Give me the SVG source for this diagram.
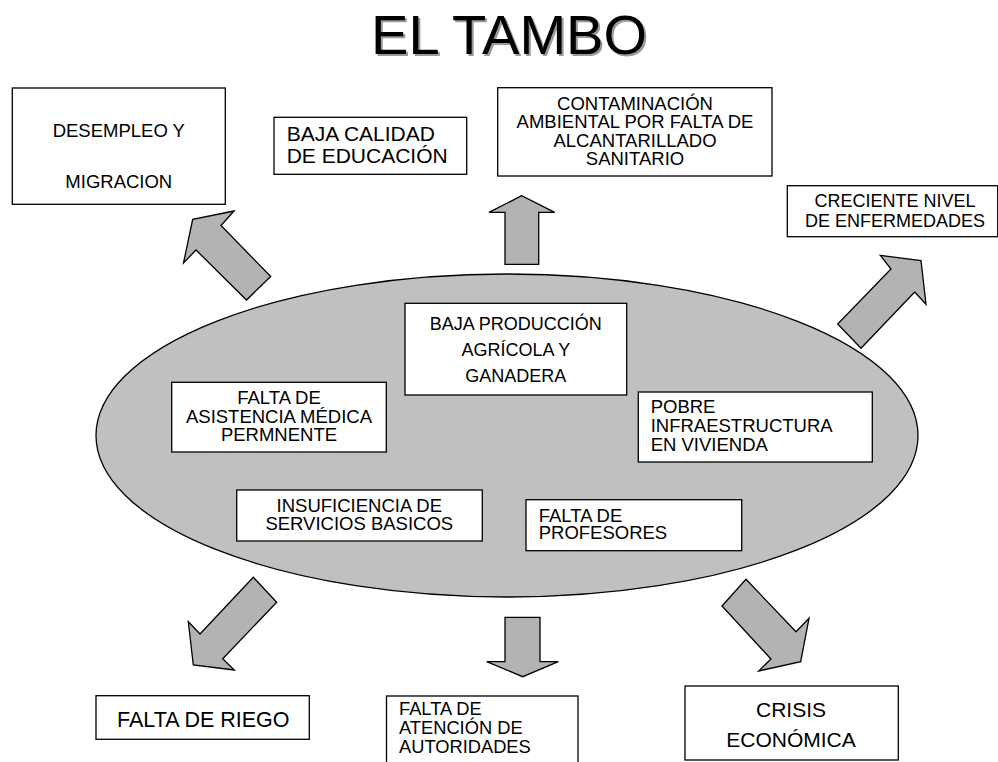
<svg xmlns="http://www.w3.org/2000/svg" width="998" height="762" viewBox="0 0 998 762">
<style>
.box{fill:#ffffff;stroke:#000000;stroke-width:1.3}
.arr{fill:#b3b3b3;stroke:#000000;stroke-width:1.3;stroke-linejoin:miter}
.t{font-family:"Liberation Sans",Arial,sans-serif;fill:#000000}
.c{text-anchor:middle}
</style>
<rect width="998" height="762" fill="#ffffff"/>
<g id="title">
<text class="t c" x="511" y="55.5" font-size="56" style="fill:#9a9a9a">EL TAMBO</text>
<text class="t c" x="509" y="53.5" font-size="56">EL TAMBO</text>
</g>
<g id="center">
<ellipse cx="507" cy="435.5" rx="411" ry="161.5" fill="#c0c0c0" stroke="#000000" stroke-width="1.3"/>
</g>
<g id="connectors">
<polygon class="arr" points="234,211 192.7,219.3 183.5,263 196,250 246.5,300 270.7,276.5 221,225.5"/>
<polygon class="arr" points="521.7,195.7 489,212.3 505,212.3 505,264.3 538.7,264.3 538.7,212.3 554.7,212.3"/>
<polygon class="arr" points="880.3,255.3 921,260.7 926,304.3 914.7,292 861,348.3 837.7,324 891,269"/>
<polygon class="arr" points="253.3,577.3 276.7,602.3 222.7,658.7 234.3,670 193.3,665 188.3,621.7 200,634"/>
<polygon class="arr" points="505,617.3 540,617.3 540,661.7 558.3,661.7 522.7,676.7 486.7,661.7 505,661.7"/>
<polygon class="arr" points="722,606 746,579.3 796,631.7 809,618.3 800.7,661.7 758.7,671 771,659"/>
</g>
<g id="n-desempleo">
<rect class="box" x="12.3" y="88" width="213" height="116.3"/>
<text class="t c" x="118.8" font-size="18.5"><tspan x="118.8" y="136.7">DESEMPLEO Y</tspan><tspan x="118.8" y="188">MIGRACION</tspan></text>
</g>
<g id="n-baja-calidad">
<rect class="box" x="274" y="117.3" width="192.7" height="57"/>
<text class="t" font-size="21"><tspan x="286.7" y="141">BAJA CALIDAD</tspan><tspan x="286.7" y="162.7">DE EDUCACIÓN</tspan></text>
</g>
<g id="n-contaminacion">
<rect class="box" x="497.7" y="87.7" width="274.3" height="88.3"/>
<text class="t c" font-size="18.5"><tspan x="635" y="110">CONTAMINACIÓN</tspan><tspan x="635" y="128.3">AMBIENTAL POR FALTA DE</tspan><tspan x="635" y="146.7">ALCANTARILLADO</tspan><tspan x="635" y="165">SANITARIO</tspan></text>
</g>
<g id="n-creciente">
<rect class="box" x="787.3" y="185.7" width="210.4" height="51"/>
<text class="t c" font-size="18"><tspan x="895" y="207.3">CRECIENTE NIVEL</tspan><tspan x="895" y="226.7">DE ENFERMEDADES</tspan></text>
</g>
<g id="n-baja-produccion">
<rect class="box" x="405" y="303.3" width="221.7" height="91.7"/>
<text class="t c" font-size="18"><tspan x="515.8" y="330">BAJA PRODUCCIÓN</tspan><tspan x="515.8" y="356">AGRÍCOLA Y</tspan><tspan x="515.8" y="381.7">GANADERA</tspan></text>
</g>
<g id="n-asistencia">
<rect class="box" x="171.7" y="382.3" width="214.6" height="69.7"/>
<text class="t c" font-size="18.5"><tspan x="279" y="404">FALTA DE</tspan><tspan x="279" y="422.7">ASISTENCIA MÉDICA</tspan><tspan x="279" y="440.7">PERMNENTE</tspan></text>
</g>
<g id="n-pobre">
<rect class="box" x="638.3" y="392" width="234" height="70"/>
<text class="t" font-size="18.5"><tspan x="650.7" y="413.3">POBRE</tspan><tspan x="650.7" y="431.7">INFRAESTRUCTURA</tspan><tspan x="650.7" y="450.7">EN VIVIENDA</tspan></text>
</g>
<g id="n-insuficiencia">
<rect class="box" x="236.7" y="490" width="245.6" height="51"/>
<text class="t c" font-size="18.5"><tspan x="359.3" y="511.7">INSUFICIENCIA DE</tspan><tspan x="359.3" y="530">SERVICIOS BASICOS</tspan></text>
</g>
<g id="n-profesores">
<rect class="box" x="526" y="499.7" width="215.7" height="51"/>
<text class="t" font-size="18.5"><tspan x="538.7" y="521.7">FALTA DE</tspan><tspan x="538.7" y="539.3">PROFESORES</tspan></text>
</g>
<g id="n-riego">
<rect class="box" x="96" y="695.7" width="213.3" height="43.6"/>
<text class="t c" x="203.3" y="726.7" font-size="21.5">FALTA DE RIEGO</text>
</g>
<g id="n-atencion">
<rect class="box" x="386.5" y="696" width="191.5" height="80"/>
<text class="t" font-size="18.3"><tspan x="399" y="715">FALTA DE</tspan><tspan x="399" y="734">ATENCIÓN DE</tspan><tspan x="399" y="753">AUTORIDADES</tspan></text>
</g>
<g id="n-crisis">
<rect class="box" x="685" y="686" width="213.3" height="74"/>
<text class="t c" font-size="21"><tspan x="791" y="716.7">CRISIS</tspan><tspan x="791" y="746.7">ECONÓMICA</tspan></text>
</g>
</svg>
